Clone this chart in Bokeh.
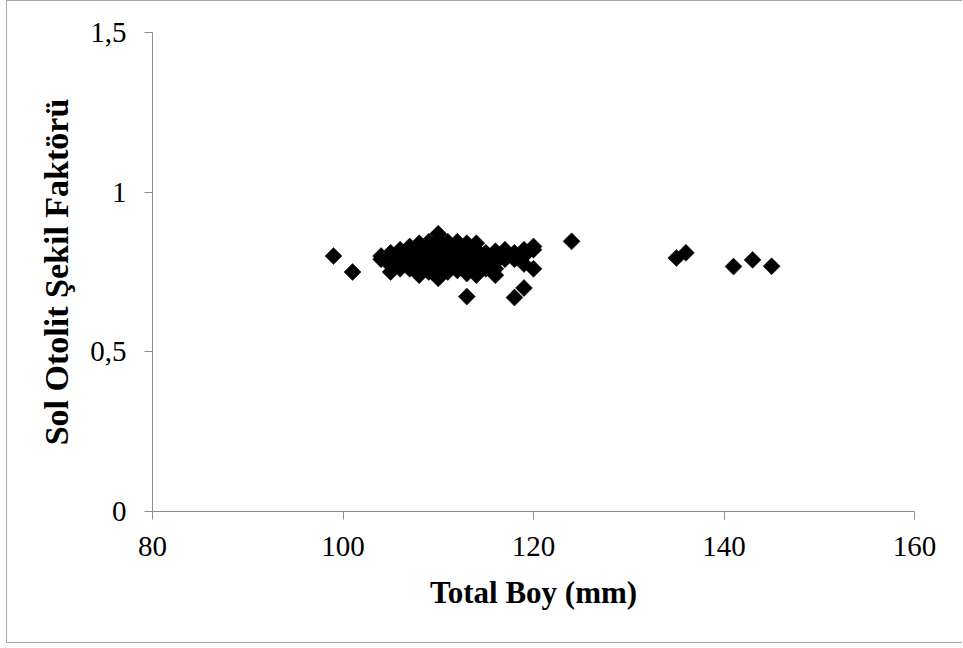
from bokeh.plotting import figure
from bokeh.models import FixedTicker, Range1d, ColumnDataSource
from bokeh.embed import file_html
from bokeh.resources import INLINE
import math

# ---- data ----
total_boy = [
    99, 101,
    104, 104,
    105, 105, 105, 105, 105,
    106, 106, 106, 106, 106, 106,
    107, 107, 107, 107, 107, 107, 107, 107,
    108, 108, 108, 108, 108, 108, 108, 108, 108,
    109, 109, 109, 109, 109, 109, 109, 109, 109, 109,
    110, 110, 110, 110, 110, 110, 110, 110, 110, 110, 110, 110,
    111, 111, 111, 111, 111, 111, 111, 111, 111, 111,
    112, 112, 112, 112, 112, 112, 112, 112, 112,
    113, 113, 113, 113, 113, 113, 113, 113,
    114, 114, 114, 114, 114, 114, 114,
    115, 115, 115, 115, 115,
    116, 116, 116, 116, 116,
    117, 117, 117,
    118, 118, 118,
    119, 119, 119, 119,
    120, 120, 120,
    124, 135, 136, 141, 143, 145,
]
sekil_faktoru = [
    0.80, 0.75,
    0.80, 0.79,
    0.81, 0.79, 0.77, 0.75, 0.78,
    0.82, 0.80, 0.78, 0.76, 0.79, 0.81,
    0.83, 0.81, 0.79, 0.77, 0.76, 0.80, 0.82, 0.78,
    0.84, 0.82, 0.80, 0.78, 0.76, 0.74, 0.81, 0.79, 0.77,
    0.845, 0.83, 0.81, 0.79, 0.77, 0.75, 0.80, 0.82, 0.78, 0.76,
    0.87, 0.85, 0.83, 0.81, 0.79, 0.77, 0.75, 0.73, 0.80, 0.82, 0.78, 0.84,
    0.845, 0.83, 0.81, 0.79, 0.77, 0.75, 0.80, 0.82, 0.78, 0.76,
    0.845, 0.83, 0.81, 0.79, 0.77, 0.755, 0.80, 0.82, 0.78,
    0.84, 0.82, 0.80, 0.78, 0.76, 0.745, 0.81, 0.673,
    0.84, 0.82, 0.80, 0.78, 0.76, 0.74, 0.79,
    0.81, 0.79, 0.77, 0.76, 0.80,
    0.815, 0.80, 0.78, 0.74, 0.76,
    0.82, 0.80, 0.79,
    0.81, 0.79, 0.67,
    0.82, 0.80, 0.775, 0.70,
    0.83, 0.82, 0.76,
    0.846, 0.794, 0.81, 0.767, 0.788, 0.768,
]
x_ticks = [80, 100, 120, 140, 160]
y_ticks = [0, 0.5, 1, 1.5]
y_tick_labels = ["0", "0,5", "1", "1,5"]
x_title = "Total Boy (mm)"
y_title = "Sol Otolit Şekil Faktörü"

FONT = "Liberation Serif"
AXIS_GREY = "#8C8C8C"

p = figure(width=956, height=643, output_backend="svg", toolbar_location=None,
           x_range=Range1d(80, 160), y_range=Range1d(0, 1.5),
           min_border_left=145, min_border_top=31, min_border_right=49,
           min_border_bottom=133)
p.styles = {"margin-top": "0px", "margin-left": "6px",
            "border-left": "1px solid #A6A6A6",
            "border-top": "1px solid #A6A6A6",
            "border-bottom": "1px solid #A6A6A6"}
p.outline_line_color = None
p.grid.visible = False
p.background_fill_color = "white"
p.border_fill_color = "white"

src = ColumnDataSource(dict(x=total_boy, y=sekil_faktoru))
p.scatter("x", "y", source=src, marker="square", size=12, angle=math.pi / 4,
          fill_color="black", line_color="black", line_width=0.5)

p.xaxis.ticker = FixedTicker(ticks=x_ticks)
p.yaxis.ticker = FixedTicker(ticks=y_ticks)
p.yaxis.major_label_overrides = {t: l for t, l in zip(y_ticks, y_tick_labels)}

for ax in (p.xaxis[0], p.yaxis[0]):
    ax.axis_line_color = AXIS_GREY
    ax.axis_line_width = 1
    ax.major_tick_line_color = AXIS_GREY
    ax.major_tick_in = 0
    ax.major_tick_out = 8
    ax.minor_tick_line_color = None
    ax.major_label_text_font = FONT
    ax.major_label_text_font_size = "29px"
    ax.major_label_text_color = "black"
    ax.axis_label_text_font = FONT
    ax.axis_label_text_font_style = "bold"
    ax.axis_label_text_color = "black"

p.xaxis.axis_label = x_title
p.yaxis.axis_label = y_title
p.xaxis.axis_label_text_font_size = "31px"
p.yaxis.axis_label_text_font_size = "34px"
p.xaxis.major_label_standoff = 17
p.yaxis.major_label_standoff = 18
p.xaxis.axis_label_standoff = 16
p.yaxis.axis_label_standoff = 12

open("out.html", "w").write(file_html(p, INLINE))
